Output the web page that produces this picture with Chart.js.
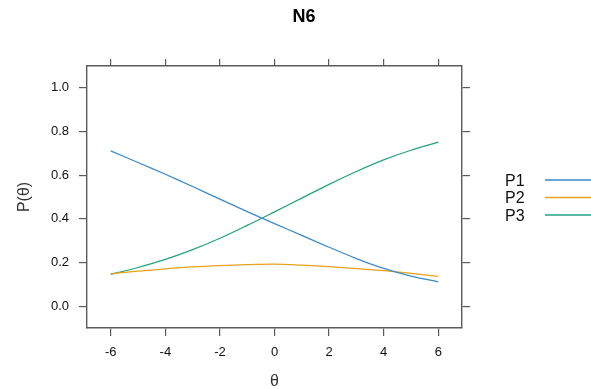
<!DOCTYPE html>
<html>
<head>
<meta charset="utf-8">
<script src="https://cdn.jsdelivr.net/npm/chart.js@4/dist/chart.umd.min.js"></script>
<style>
  html, body { margin: 0; padding: 0; background: #ffffff; }
  #wrap { width: 591px; height: 389px; }
</style>
</head>
<body>
<div id="wrap"><canvas id="icc" width="591" height="389"></canvas></div>
<script>
// Category response curves for item N6
const chartTitle = "N6";
const thetaGrid = [-6, -5, -4, -3, -2, -1, 0, 1, 2, 3, 4, 5, 6];
const p1Values = [0.711, 0.658, 0.604, 0.548, 0.490, 0.433, 0.378, 0.324, 0.270, 0.218, 0.173, 0.138, 0.111];
const p2Values = [0.149, 0.160, 0.171, 0.180, 0.186, 0.190, 0.193, 0.188, 0.181, 0.172, 0.163, 0.150, 0.137];
const p3Values = [0.145, 0.177, 0.214, 0.259, 0.311, 0.370, 0.432, 0.495, 0.558, 0.617, 0.670, 0.714, 0.751];
const seriesNames = ["P1", "P2", "P3"];
const xTicks = [-6, -4, -2, 0, 2, 4, 6];
const yTicks = [0, 0.2, 0.4, 0.6, 0.8, 1.0];

(() => {
  const canvas = document.getElementById("icc");
  const FONT = "'Liberation Sans', Arial, sans-serif";
  const lineColors = ["#3a8ac9", "#e8a21c", "#22a47f"];
  const frameColor = "#5a5a5a";

  const toPoints = (values) => thetaGrid.map((theta, i) => ({ x: theta, y: values[i] }));
  const fixTicks = (list) => (scale) => {
    scale.ticks = list.map((value) => ({ value }));
  };

  const datasets = [p1Values, p2Values, p3Values].map((values, i) => ({
    label: seriesNames[i],
    data: toPoints(values),
    borderColor: lineColors[i],
    borderWidth: 1.25,
    pointRadius: 0,
    tension: 0.35,
    fill: false,
  }));

  // title and the key on the right, drawn lattice-style (label then line)
  const decorPlugin = {
    id: "latticeDecor",
    afterDraw(chart) {
      const { ctx } = chart;
      ctx.save();
      ctx.fillStyle = "#000000";
      ctx.font = `bold 18px ${FONT}`;
      ctx.textAlign = "center";
      ctx.textBaseline = "middle";
      ctx.fillText(chartTitle, 304, 17);

      const keyY = [180, 197.5, 215];
      ctx.font = `16px ${FONT}`;
      ctx.textAlign = "left";
      seriesNames.forEach((name, i) => {
        ctx.fillStyle = "#111111";
        ctx.fillText(name, 505, keyY[i] + 1.5);
        ctx.strokeStyle = lineColors[i];
        ctx.lineWidth = 1.4;
        ctx.beginPath();
        ctx.moveTo(545, keyY[i]);
        ctx.lineTo(595, keyY[i]);
        ctx.stroke();
      });
      ctx.restore();
    },
  };

  const tickFont = { family: FONT, size: 13 };
  const frame = { display: true, color: frameColor, width: 1.4 };
  const tickMarks = (len) => ({
    drawOnChartArea: false,
    drawTicks: true,
    tickLength: len,
    color: frameColor,
    lineWidth: 1.2,
  });

  new Chart(canvas, {
    type: "line",
    data: { datasets },
    options: {
      responsive: false,
      animation: false,
      devicePixelRatio: 1,
      layout: { padding: 0 },
      plugins: {
        legend: { display: false },
        title: { display: false },
        tooltip: { enabled: false },
      },
      scales: {
        x: {
          type: "linear",
          position: "bottom",
          min: -6.87,
          max: 6.87,
          afterBuildTicks: fixTicks(xTicks),
          afterFit: (scale) => { scale.height = 61; },
          ticks: { font: tickFont, color: "#111111", padding: 9, callback: (v) => String(v) },
          grid: tickMarks(8),
          border: frame,
          title: {
            display: true,
            text: "θ",
            color: "#333333",
            font: { family: FONT, size: 16, lineHeight: 0.9 },
            padding: 0,
          },
        },
        xTop: {
          type: "linear",
          position: "top",
          min: -6.87,
          max: 6.87,
          afterBuildTicks: fixTicks(xTicks),
          afterFit: (scale) => { scale.height = 66; },
          ticks: { display: false },
          grid: tickMarks(7),
          border: frame,
        },
        y: {
          type: "linear",
          position: "left",
          min: -0.1,
          max: 1.1,
          afterBuildTicks: fixTicks(yTicks),
          afterFit: (scale) => { scale.width = 87; },
          ticks: { font: tickFont, color: "#111111", padding: 10, callback: (v) => Number(v).toFixed(1) },
          grid: tickMarks(8),
          border: frame,
          title: {
            display: true,
            text: "P(θ)",
            color: "#333333",
            font: { family: FONT, size: 16 },
            padding: { top: 15, bottom: 0 },
          },
        },
        yRight: {
          type: "linear",
          position: "right",
          min: -0.1,
          max: 1.1,
          afterBuildTicks: fixTicks(yTicks),
          afterFit: (scale) => { scale.width = 129; },
          ticks: { display: false },
          grid: tickMarks(8),
          border: frame,
        },
      },
    },
    plugins: [decorPlugin],
  });
})();
</script>
</body>
</html>
